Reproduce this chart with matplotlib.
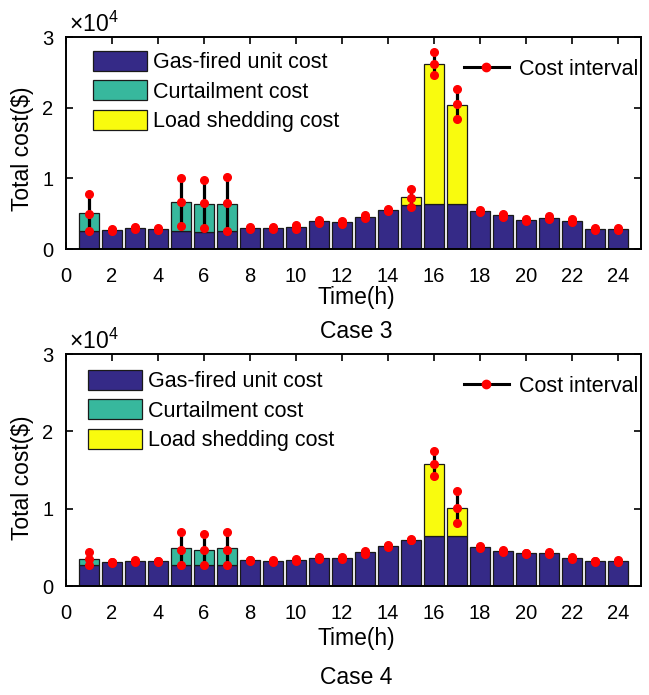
import matplotlib
matplotlib.use("Agg")
import matplotlib.pyplot as plt
from matplotlib.lines import Line2D
from matplotlib.patches import Patch
import numpy as np

plt.rcParams['font.family'] = ['Liberation Sans', 'DejaVu Sans']
plt.rcParams['mathtext.fontset'] = 'custom'
plt.rcParams['mathtext.rm'] = 'Liberation Sans'
plt.rcParams['mathtext.it'] = 'Liberation Sans:italic'

hours = list(range(1, 25))
xticks = list(range(0, 25, 2))
legend_labels = ['Gas-fired unit cost', 'Curtailment cost', 'Load shedding cost']

# Case 3
gas3 = [2550, 2740, 2970, 2830, 2500, 2450, 2500, 2920, 2920, 3110, 3920, 3770,
        4530, 5520, 6180, 6370, 6370, 5330, 4760, 4100, 4390, 4010, 2830, 2830]
curt3 = [2590, 0, 0, 0, 4150, 3920, 3915, 0, 0, 0, 0, 0,
         0, 0, 0, 0, 0, 0, 0, 0, 0, 0, 0, 0]
shed3 = [0, 0, 0, 0, 0, 0, 0, 0, 0, 0, 0, 0,
         0, 0, 1180, 19860, 14050, 0, 0, 0, 0, 0, 0, 0]
low3 = [2550, 2600, 2850, 2700, 3250, 2970, 2500, 2800, 2800, 2900, 3750, 3600,
        4350, 5400, 5990, 24620, 18400, 5200, 4550, 3950, 4200, 3850, 2700, 2700]
mid3 = [5000, 2740, 2970, 2830, 6700, 6500, 6500, 2920, 2920, 3110, 3920, 3770,
        4530, 5520, 7220, 26180, 20470, 5330, 4760, 4100, 4390, 4010, 2830, 2830]
up3 = [7740, 2850, 3100, 2950, 10000, 9720, 10240, 3050, 3050, 3350, 4100, 4000,
       4750, 5700, 8490, 27830, 22590, 5450, 5000, 4300, 4650, 4200, 2950, 2950]

# Case 4
gas4 = [2710, 3050, 3230, 3180, 2710, 2710, 2710, 3310, 3180, 3400, 3570, 3570,
        4340, 5200, 5980, 6410, 6410, 5080, 4470, 4220, 4220, 3570, 3180, 3180]
curt4 = [820, 0, 0, 0, 2150, 1980, 2150, 0, 0, 0, 0, 0,
         0, 0, 0, 0, 0, 0, 0, 0, 0, 0, 0, 0]
shed4 = [0, 0, 0, 0, 0, 0, 0, 0, 0, 0, 0, 0,
         0, 0, 0, 9420, 3740, 0, 0, 0, 0, 0, 0, 0]
low4 = [2670, 2950, 3120, 3100, 2710, 2710, 2710, 3200, 3050, 3250, 3450, 3450,
        4200, 5100, 5900, 14240, 8130, 4950, 4350, 4120, 4100, 3450, 3080, 3050]
mid4 = [3530, 3050, 3230, 3180, 4690, 4690, 4690, 3310, 3180, 3400, 3570, 3570,
        4340, 5200, 5980, 15830, 10150, 5080, 4470, 4220, 4220, 3570, 3180, 3180]
up4 = [4340, 3150, 3330, 3260, 6970, 6750, 6970, 3400, 3300, 3550, 3700, 3700,
       4480, 5300, 6060, 17420, 12220, 5220, 4600, 4320, 4350, 3700, 3280, 3300]

c_gas = '#352A87'
c_curt = '#37B89D'
c_shed = '#F9FB0E'
edge = '#1a1a1a'

W, H = 649, 695
fig = plt.figure(figsize=(W / 100, H / 100), dpi=100)

def px_axes(left, top, right, bottom):
    return fig.add_axes([left / W, 1 - bottom / H, (right - left) / W, (bottom - top) / H])

ax1 = px_axes(66, 37, 641, 249)
ax2 = px_axes(66, 354, 641, 586)

FT = 14.5   # tick labels
FL = 15.5   # legend text
FX = 16.5   # axis labels

def draw(ax, gas, curt, shed, low, mid, up, case, leg_anchor, ylab_y, time_y, case_y):
    x = np.array(hours)
    gas = np.array(gas); curt = np.array(curt); shed = np.array(shed)
    w = 0.84
    ax.bar(x, gas, w, color=c_gas, edgecolor=edge, linewidth=0.9, zorder=2)
    for xi, g, c in zip(x, gas, curt):
        if c > 0:
            ax.bar(xi, c, w, bottom=g, color=c_curt, edgecolor=edge, linewidth=0.9, zorder=2)
    for xi, g, c, s in zip(x, gas, curt, shed):
        if s > 0:
            ax.bar(xi, s, w, bottom=g + c, color=c_shed, edgecolor=edge, linewidth=0.9, zorder=2)
    for xi, lo, m, hi in zip(x, low, mid, up):
        ax.plot([xi, xi], [lo, hi], color='black', lw=2.3, zorder=3, solid_capstyle='butt')
        ax.plot([xi, xi, xi], [lo, m, hi], 'o', color='red', ms=5.5, mec='red', zorder=4)
    ax.set_xlim(0, 25)
    ax.set_ylim(0, 30000)
    ax.set_xticks(xticks)
    ax.set_yticks([0, 10000, 20000, 30000])
    ax.set_yticklabels(['0', '1', '2', '3'])
    ax.tick_params(axis='both', direction='in', length=5, width=1.2, top=True, right=True,
                   labelsize=FT)
    ax.tick_params(axis='x', pad=13)
    ax.tick_params(axis='y', pad=9)
    for s in ax.spines.values():
        s.set_linewidth(1.4)
    bb = ax.get_position()
    xc = (bb.x0 + bb.x1) / 2 + 2.5 / W
    fig.text(xc, 1 - time_y / H, 'Time(h)', fontsize=FX, ha='center', va='center')
    fig.text(xc, 1 - case_y / H, case, fontsize=FX, ha='center', va='center')
    fig.text(23 / W, 1 - ylab_y / H, 'Total cost($)', fontsize=FX, rotation=90,
             ha='center', va='center')
    ax.text(3 / 575, 1.0, r'$\times10^4$', transform=ax.transAxes, fontsize=16.5,
            ha='left', va='bottom')
    handles = [Patch(facecolor=c_gas, edgecolor=edge, linewidth=0.9),
               Patch(facecolor=c_curt, edgecolor=edge, linewidth=0.9),
               Patch(facecolor=c_shed, edgecolor=edge, linewidth=0.9)]
    leg1 = ax.legend(handles=handles, labels=legend_labels, loc='upper left', frameon=False,
                     fontsize=FL, handlelength=2.5, handleheight=1.05, handletextpad=0.3,
                     borderaxespad=0.0, borderpad=0.0, labelspacing=0.33,
                     bbox_to_anchor=leg_anchor)
    ax.add_artist(leg1)
    h = Line2D([0], [0], color='black', lw=2.2, marker='o', mfc='red', mec='red', ms=6)
    ax.legend(handles=[h], labels=['Cost interval'], loc='center right', frameon=False,
              fontsize=FL, handlelength=2.1, handletextpad=0.45, borderaxespad=0.0,
              borderpad=0.0, bbox_to_anchor=(1 - 3 / 575, 1 - 32 / ax.bbox.height))

draw(ax1, gas3, curt3, shed3, low3, mid3, up3, 'Case 3',
     (27 / 575, 1 - 14 / 212), 149, 298, 332)
draw(ax2, gas4, curt4, shed4, low4, mid4, up4, 'Case 4',
     (22 / 575, 1 - 16 / 232), 478, 639, 678)

fig.savefig('out.png', dpi=100)
